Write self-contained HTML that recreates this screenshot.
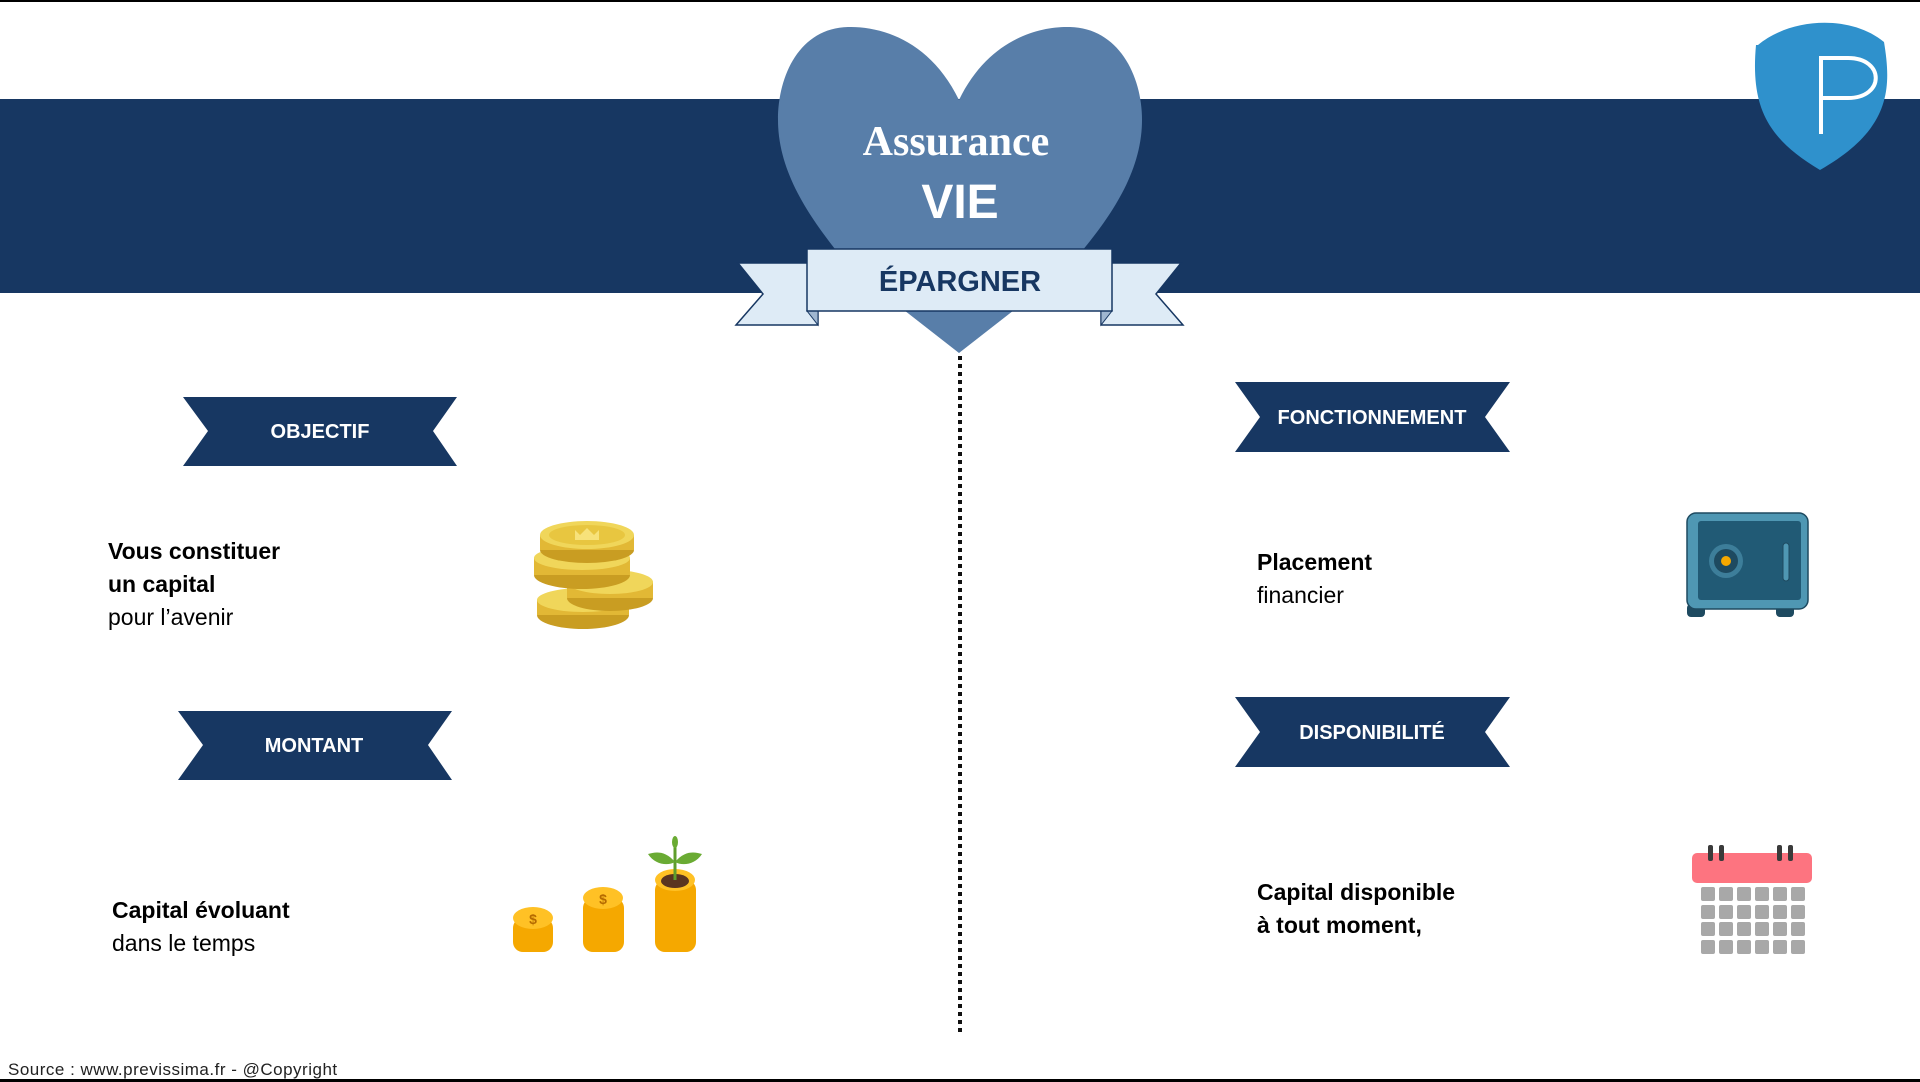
<!DOCTYPE html>
<html><head><meta charset="utf-8"><style>
html,body{margin:0;padding:0;background:#fff;}
svg{display:block}
</style></head><body>
<svg width="1920" height="1082" viewBox="0 0 1920 1082" xmlns="http://www.w3.org/2000/svg" font-family="'Liberation Sans', sans-serif">
<rect x="0" y="0" width="1920" height="1082" fill="#fff"/>
<rect x="0" y="0" width="1920" height="2" fill="#000"/>
<rect x="0" y="1079" width="1920" height="3" fill="#000"/>
<rect x="0" y="99" width="1920" height="194" fill="#173762"/>
<!-- heart -->
<path d="M959 100 C930 40 880 26 848 27 C800 28 778 75 778 120 C778 180 820 230 850 268 L959 353 L1068 268 C1100 230 1142 180 1142 120 C1142 75 1118 28 1070 27 C1038 26 988 40 959 100 Z" fill="#587ea9"/>
<text x="956" y="155" text-anchor="middle" font-family="'Liberation Serif', serif" font-size="42" font-weight="bold" fill="#fff">Assurance</text>
<text x="960" y="218" text-anchor="middle" font-size="48" font-weight="bold" fill="#fff">VIE</text>
<!-- ribbon -->
<polygon points="738,263 818,263 818,325 736,325 763,294" fill="#deebf6" stroke="#173762" stroke-width="1.5"/>
<polygon points="1181,263 1101,263 1101,325 1183,325 1156,294" fill="#deebf6" stroke="#173762" stroke-width="1.5"/>
<polygon points="807,311 818,325 818,311" fill="#9fb6d0" stroke="#173762" stroke-width="1"/>
<polygon points="1112,311 1101,325 1101,311" fill="#9fb6d0" stroke="#173762" stroke-width="1"/>
<rect x="807" y="249" width="305" height="62" fill="#deebf6" stroke="#173762" stroke-width="1.5"/>
<text x="960" y="291" text-anchor="middle" font-size="29" font-weight="bold" fill="#173762">ÉPARGNER</text>
<!-- dotted line -->
<line x1="960" y1="356" x2="960" y2="1036" stroke="#111" stroke-width="4" stroke-dasharray="4,4"/>
<!-- logo -->
<path d="M1758 45 C1790 18 1850 14 1884 42 C1892 90 1890 130 1820 170 C1770 140 1750 110 1756 45 Z" fill="#2f91cc"/>
<path d="M1821 134 V58 H1848 C1885 58 1885 98 1848 98 H1821" fill="none" stroke="#fff" stroke-width="4"/>
<!-- section ribbons -->
<g fill="#173762">
<polygon points="183,397 457,397 433,431 457,466 183,466 208,431"/>
<polygon points="178,711 452,711 428,745 452,780 178,780 203,745"/>
<polygon points="1235,382 1510,382 1485,417 1510,452 1235,452 1260,417"/>
<polygon points="1235,697 1510,697 1485,732 1510,767 1235,767 1260,732"/>
</g>
<g fill="#fff" font-weight="bold" font-size="20" text-anchor="middle">
<text x="320" y="438">OBJECTIF</text>
<text x="314" y="752">MONTANT</text>
<text x="1372" y="424">FONCTIONNEMENT</text>
<text x="1372" y="739">DISPONIBILITÉ</text>
</g>
<!-- texts -->
<g font-size="23" fill="#000">
<text x="108" y="559" font-weight="bold">Vous constituer</text>
<text x="108" y="592" font-weight="bold">un capital</text>
<text x="108" y="625">pour l’avenir</text>
<text x="112" y="918" font-weight="bold">Capital évoluant</text>
<text x="112" y="951">dans le temps</text>
<text x="1257" y="570" font-weight="bold">Placement</text>
<text x="1257" y="603">financier</text>
<text x="1257" y="900" font-weight="bold">Capital disponible</text>
<text x="1257" y="933" font-weight="bold">à tout moment,</text>
</g>
<text x="8" y="1075" font-size="17" letter-spacing="0.5" fill="#222">Source : www.previssima.fr - @Copyright</text>
<!-- coins -->
<g>
<ellipse cx="583" cy="615" rx="46" ry="14" fill="#c99d22"/>
<rect x="537" y="600" width="92" height="15" fill="#e2b835"/>
<ellipse cx="583" cy="600" rx="46" ry="12" fill="#f0d65a"/>
<ellipse cx="610" cy="598" rx="43" ry="13" fill="#c99d22"/>
<rect x="567" y="582" width="86" height="16" fill="#e2b835"/>
<ellipse cx="610" cy="582" rx="43" ry="12" fill="#f0d65a"/>
<ellipse cx="582" cy="575" rx="48" ry="14" fill="#c99d22"/>
<rect x="534" y="558" width="96" height="17" fill="#e2b835"/>
<ellipse cx="582" cy="558" rx="48" ry="12" fill="#f0d65a"/>
<ellipse cx="587" cy="550" rx="47" ry="13" fill="#c99d22"/>
<rect x="540" y="535" width="94" height="15" fill="#e2b835"/>
<ellipse cx="587" cy="535" rx="47" ry="14" fill="#f0d65a"/>
<ellipse cx="587" cy="535" rx="38" ry="10" fill="#e8c640"/>
<polygon points="575,540 575,530 580,535 587,528 594,535 599,530 599,540" fill="#f7e27a"/>
</g>
<!-- coin stacks -->
<g>
<rect x="513" y="918" width="40" height="34" rx="10" fill="#f5a800"/>
<ellipse cx="533" cy="918" rx="20" ry="11" fill="#ffc125"/>
<text x="533" y="924" text-anchor="middle" font-size="14" font-weight="bold" fill="#b56a00">$</text>
<rect x="583" y="898" width="41" height="54" rx="10" fill="#f5a800"/>
<ellipse cx="603" cy="898" rx="20" ry="11" fill="#ffc125"/>
<text x="603" y="904" text-anchor="middle" font-size="14" font-weight="bold" fill="#b56a00">$</text>
<rect x="655" y="880" width="41" height="72" rx="10" fill="#f5a800"/>
<ellipse cx="675" cy="880" rx="20" ry="11" fill="#ffc125"/>
<ellipse cx="675" cy="881" rx="14" ry="7" fill="#5a3420"/>
<path d="M675 880 V840" stroke="#5f9e2c" stroke-width="3"/>
<path d="M675 862 C665 850 655 852 648 854 C655 865 668 866 675 862Z" fill="#6aab33"/>
<path d="M675 862 C685 850 695 852 702 854 C695 865 682 866 675 862Z" fill="#6aab33"/>
<ellipse cx="675" cy="842" rx="3" ry="6" fill="#6aab33"/>
</g>
<!-- safe -->
<g>
<rect x="1687" y="604" width="18" height="13" rx="4" fill="#1e4a60"/>
<rect x="1776" y="604" width="18" height="13" rx="4" fill="#1e4a60"/>
<rect x="1687" y="513" width="121" height="96" rx="9" fill="#4f97b3" stroke="#1e4a60" stroke-width="1.5"/>
<rect x="1698" y="521" width="103" height="79" rx="3" fill="#215a75"/>
<circle cx="1726" cy="561" r="17" fill="#3d7e9a"/>
<circle cx="1726" cy="561" r="12" fill="#1e4a60"/>
<circle cx="1726" cy="561" r="5" fill="#f5a800"/>
<rect x="1783" y="543" width="6" height="38" rx="3" fill="#4f97b3" stroke="#1e4a60"/>
</g>
<!-- calendar -->
<g>
<rect x="1692" y="853" width="120" height="30" rx="5" fill="#fd7480"/>
<rect x="1708" y="845" width="5" height="16" rx="2" fill="#3a3a3a"/>
<rect x="1719" y="845" width="5" height="16" rx="2" fill="#3a3a3a"/>
<rect x="1777" y="845" width="5" height="16" rx="2" fill="#3a3a3a"/>
<rect x="1788" y="845" width="5" height="16" rx="2" fill="#3a3a3a"/>
<g fill="#a8a8a8">
<rect x="1701" y="887" width="14" height="14" rx="2"/><rect x="1719" y="887" width="14" height="14" rx="2"/><rect x="1737" y="887" width="14" height="14" rx="2"/><rect x="1755" y="887" width="14" height="14" rx="2"/><rect x="1773" y="887" width="14" height="14" rx="2"/><rect x="1791" y="887" width="14" height="14" rx="2"/>
<rect x="1701" y="905" width="14" height="14" rx="2"/><rect x="1719" y="905" width="14" height="14" rx="2"/><rect x="1737" y="905" width="14" height="14" rx="2"/><rect x="1755" y="905" width="14" height="14" rx="2"/><rect x="1773" y="905" width="14" height="14" rx="2"/><rect x="1791" y="905" width="14" height="14" rx="2"/>
<rect x="1701" y="922" width="14" height="14" rx="2"/><rect x="1719" y="922" width="14" height="14" rx="2"/><rect x="1737" y="922" width="14" height="14" rx="2"/><rect x="1755" y="922" width="14" height="14" rx="2"/><rect x="1773" y="922" width="14" height="14" rx="2"/><rect x="1791" y="922" width="14" height="14" rx="2"/>
<rect x="1701" y="940" width="14" height="14" rx="2"/><rect x="1719" y="940" width="14" height="14" rx="2"/><rect x="1737" y="940" width="14" height="14" rx="2"/><rect x="1755" y="940" width="14" height="14" rx="2"/><rect x="1773" y="940" width="14" height="14" rx="2"/><rect x="1791" y="940" width="14" height="14" rx="2"/>
</g>
</g>
</svg>
</body></html>
